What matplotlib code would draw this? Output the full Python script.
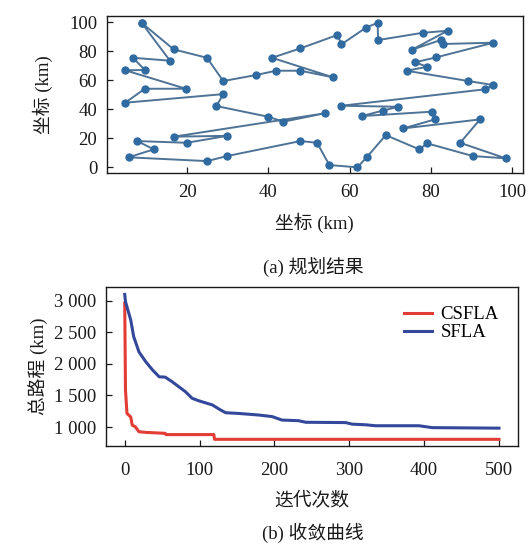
import matplotlib
matplotlib.use("Agg")
import matplotlib.pyplot as plt

FONT = ["Liberation Serif", "Noto Sans CJK SC"]
plt.rcParams["font.family"] = FONT
plt.rcParams["axes.unicode_minus"] = False

# --- (a) route, in visiting order (km) ---
route_x = [8.8, 16.7, 24.9, 28.9, 36.9, 41.9, 47.9, 56.0, 40.9, 47.9, 57.0, 58.0, 64.0, 66.9,
           67.0, 78.0, 84.1, 75.3, 82.4, 83.1, 95.4, 81.3, 76.1, 79.1, 74.0, 89.2, 95.4, 93.3,
           58.0, 72.0, 68.1, 63.0, 80.2, 81.0, 73.2, 92.1, 87.2, 98.4, 90.3, 79.1, 77.1, 68.9,
           64.2, 61.9, 55.0, 52.0, 47.9, 29.9, 24.9, 5.6, 11.8, 7.7, 19.9, 29.9, 16.7, 53.9,
           43.7, 40.0, 27.2, 28.9, 4.8, 9.6, 19.7, 4.8, 9.6, 6.7, 15.8, 8.8]
route_y = [99.5, 81.2, 75.4, 59.4, 63.5, 66.5, 66.5, 61.9, 75.4, 81.9, 91.1, 84.7, 96.1, 99.5,
           87.6, 92.6, 94.0, 80.9, 87.6, 84.9, 85.8, 75.7, 72.3, 69.2, 66.5, 59.4, 56.6, 53.7,
           42.4, 41.7, 39.0, 35.3, 38.3, 33.0, 26.8, 33.0, 16.9, 6.2, 7.8, 16.5, 12.4, 22.2,
           6.9, 0.0, 1.6, 16.9, 18.1, 7.8, 4.3, 6.9, 12.4, 18.1, 16.9, 21.7, 21.1, 37.2,
           31.4, 34.8, 42.2, 50.4, 44.5, 54.1, 54.1, 66.8, 67.0, 75.4, 73.4, 99.5]
xticks_a = [20, 40, 60, 80, 100]
yticks_a = [0, 20, 40, 60, 80, 100]

# --- (b) convergence ---
sfla_it = [0, 1, 8, 12, 19, 28, 37, 46, 54, 63, 72, 81, 90, 99, 117, 128, 135, 152, 179, 197,
           210, 232, 242, 295, 304, 322, 335, 393, 411, 500]
sfla_len = [3100, 2985, 2695, 2430, 2190, 2035, 1905, 1795, 1790, 1720, 1640, 1560, 1455, 1415,
            1350, 1270, 1226, 1215, 1190, 1165, 1110, 1100, 1075, 1070, 1045, 1035, 1020, 1020,
            990, 982]
csfla_it = [0, 1, 3, 8, 10, 14, 19, 28, 54, 55, 119, 120, 500]
csfla_len = [2960, 1585, 1215, 1160, 1030, 1005, 925, 915, 900, 880, 880, 805, 805]
yticks_b = [1000, 1500, 2000, 2500, 3000]
ytick_labels_b = ["1 000", "1 500", "2 000", "2 500", "3 000"]
xticks_b = [0, 100, 200, 300, 400, 500]

INK = "#1a1a1a"
ROUTE_LINE = "#4e7396"
ROUTE_DOT = "#2f6aa0"
RED = "#e23c34"
BLUE = "#33489a"
FS = 13.5

fig = plt.figure(figsize=(5.28, 5.45), dpi=100)

ax1 = fig.add_axes([0.2027, 0.682, 0.7873, 0.289])
ax1.plot(route_x, route_y, "-", color=ROUTE_LINE, lw=1.4, zorder=2)
ax1.plot(route_x, route_y, "o", color=ROUTE_DOT, ms=5, zorder=3)
ax1.set_xlim(0.3, 102.6)
ax1.set_ylim(-4.1, 104.3)
ax1.set_xticks(xticks_a)
ax1.set_yticks(yticks_a)
ax1.set_xlabel("坐标 (km)", fontsize=FS, color=INK, labelpad=8)
ax1.set_ylabel("坐标 (km)", fontsize=FS, color=INK, labelpad=12)

ax2 = fig.add_axes([0.2008, 0.1822, 0.7797, 0.2906])
ax2.plot(csfla_it, csfla_len, color=RED, lw=2.2, label="CSFLA")
ax2.plot(sfla_it, sfla_len, color=BLUE, lw=2.2, label="SFLA")
ax2.set_xlim(-25, 525)
ax2.set_ylim(704, 3212)
ax2.set_xticks(xticks_b)
ax2.set_yticks(yticks_b)
ax2.set_yticklabels(ytick_labels_b)
ax2.set_xlabel("迭代次数", fontsize=FS, color=INK, labelpad=9)
ax2.set_ylabel("总路程 (km)", fontsize=FS, color=INK, labelpad=4)
leg = ax2.legend(loc="upper right", frameon=False, fontsize=FS, handlelength=1.5,
                 handletextpad=0.45, labelspacing=0.05, borderaxespad=0.6)

for ax in (ax1, ax2):
    ax.tick_params(direction="in", length=4, width=0.9, labelsize=FS, colors=INK)
    ax.tick_params(axis="y", pad=7)
    for s in ax.spines.values():
        s.set_linewidth(1.0)
        s.set_color(INK)
ax1.tick_params(axis="x", pad=8)
ax2.tick_params(axis="x", pad=12)

fig.text(0.593, 1 - 267 / 545, "(a) 规划结果", ha="center", va="center", fontsize=FS, color=INK)
fig.text(0.593, 1 - 533 / 545, "(b) 收敛曲线", ha="center", va="center", fontsize=FS, color=INK)

fig.savefig("out.png", dpi=100, facecolor="white")
